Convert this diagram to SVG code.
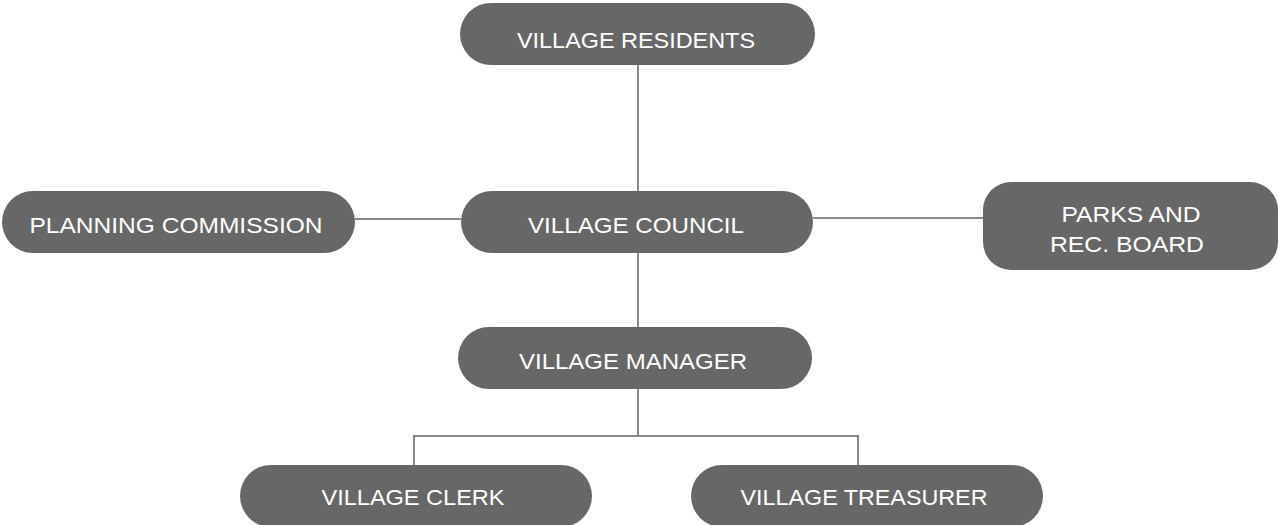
<svg xmlns="http://www.w3.org/2000/svg" width="1279" height="525" viewBox="0 0 1279 525">
<style>
.box{fill:#676767;}
.lbl{fill:#ffffff;font-family:"Liberation Sans","Open Sans",sans-serif;font-size:22px;text-anchor:middle;dominant-baseline:central;}
.conn{stroke:#8a8a8a;stroke-width:2;fill:none;}
</style>
<rect width="1279" height="525" fill="#ffffff"/>
<g id="connectors">
<line class="conn" x1="638" y1="65" x2="638" y2="191"/>
<line class="conn" x1="355" y1="219" x2="461" y2="219"/>
<line class="conn" x1="813" y1="218" x2="983" y2="218"/>
<line class="conn" x1="638" y1="253" x2="638" y2="327"/>
<line class="conn" x1="638" y1="389" x2="638" y2="436"/>
<polyline class="conn" points="414,465 414,436 858,436 858,465"/>
</g>
<g id="residents">
<rect class="box" x="460" y="3" width="355" height="62" rx="31"/>
<text class="lbl" x="636" y="40" textLength="238" lengthAdjust="spacingAndGlyphs">VILLAGE RESIDENTS</text>
</g>
<g id="planning">
<rect class="box" x="2" y="191" width="353" height="62" rx="31"/>
<text class="lbl" x="176" y="225" textLength="293" lengthAdjust="spacingAndGlyphs">PLANNING COMMISSION</text>
</g>
<g id="council">
<rect class="box" x="461" y="191" width="352" height="62" rx="31"/>
<text class="lbl" x="636" y="225" textLength="216" lengthAdjust="spacingAndGlyphs">VILLAGE COUNCIL</text>
</g>
<g id="parks">
<rect class="box" x="983" y="182" width="295" height="88" rx="28"/>
<text class="lbl" x="1131" y="214" textLength="139" lengthAdjust="spacingAndGlyphs">PARKS AND</text>
<text class="lbl" x="1127" y="244" textLength="154" lengthAdjust="spacingAndGlyphs">REC. BOARD</text>
</g>
<g id="manager">
<rect class="box" x="458" y="327" width="354" height="62" rx="31"/>
<text class="lbl" x="633" y="361" textLength="228" lengthAdjust="spacingAndGlyphs">VILLAGE MANAGER</text>
</g>
<g id="clerk">
<rect class="box" x="240" y="465" width="352" height="62" rx="31"/>
<text class="lbl" x="413" y="497" textLength="183" lengthAdjust="spacingAndGlyphs">VILLAGE CLERK</text>
</g>
<g id="treasurer">
<rect class="box" x="691" y="465" width="352" height="62" rx="31"/>
<text class="lbl" x="864" y="497" textLength="247" lengthAdjust="spacingAndGlyphs">VILLAGE TREASURER</text>
</g>
</svg>
